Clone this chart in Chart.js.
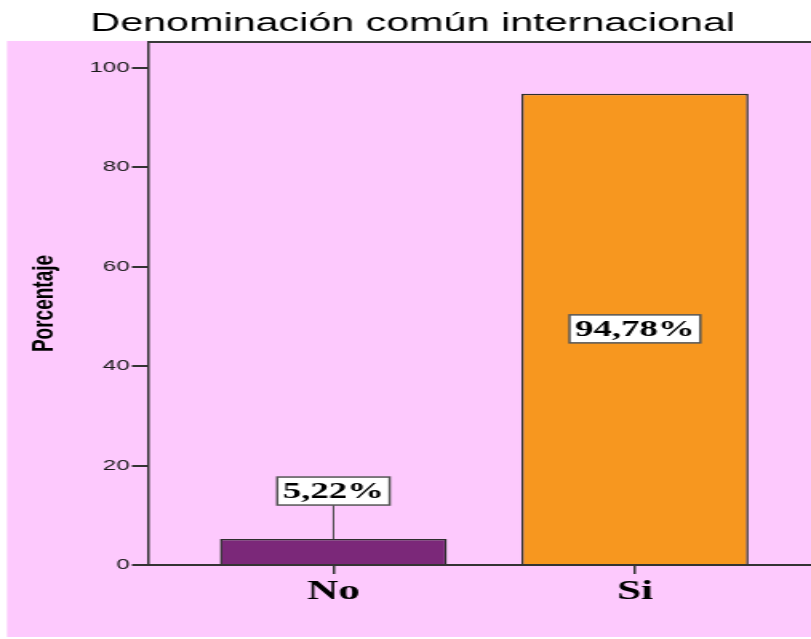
<!DOCTYPE html>
<html>
<head>
<meta charset="utf-8">
<title>Denominación común internacional</title>
<script src="https://cdn.jsdelivr.net/npm/chart.js@4"></script>
<style>
  body { margin: 0; background: #fff; }
  canvas { display: block; }
</style>
</head>
<body>
<!-- the reference is stretched sideways, so the canvas is drawn narrow and scaled up -->
<canvas id="chart" width="507" height="639" style="width:811px;height:639px"></canvas>
<script>
const categories = ['No', 'Si'];
const percentages = [5.22, 94.78];
const barColors = ['#7b2879', '#f7971f'];
const yTicks = [0, 20, 40, 60, 80, 100];

const chartTitle = 'Denominación común internacional';
const yTitle = 'Porcentaje';

// pink panel behind the plot and the top frame line
const panelPlugin = {
    id: 'panel',
    beforeDraw(chart) {
        const ctx = chart.ctx;
        ctx.save();
        ctx.fillStyle = '#ffffff';
        ctx.fillRect(0, 0, chart.width, chart.height);
        ctx.fillStyle = '#fdc9fd';
        ctx.fillRect(4.4, chart.chartArea.top - 1, chart.width, chart.height - chart.chartArea.top - 1);
        ctx.restore();
    },
    afterDraw(chart) {
        const { ctx, chartArea } = chart;
        ctx.save();
        ctx.strokeStyle = '#3a3a3a';
        ctx.lineWidth = 2;
        ctx.beginPath();
        ctx.moveTo(chartArea.left, chartArea.top);
        ctx.lineTo(chartArea.right, chartArea.top);
        ctx.stroke();
        ctx.restore();
    }
};

// boxed percentage labels
const labelPlugin = {
    id: 'boxLabels',
    afterDatasetsDraw(chart) {
        const ctx = chart.ctx;
        const meta = chart.getDatasetMeta(0);
        ctx.save();
        ctx.font = 'bold 23px "Liberation Serif", "Times New Roman", serif';
        ctx.textAlign = 'center';
        ctx.textBaseline = 'middle';
        meta.data.forEach((bar, i) => {
            const text = percentages[i].toFixed(2).replace('.', ',') + '%';
            const w = ctx.measureText(text).width + 7;
            const h = 28;
            let cy;
            if (bar.base - bar.y > 60) {
                cy = (bar.y + bar.base) / 2;
            } else {
                cy = bar.y - 48;
                ctx.strokeStyle = '#444';
                ctx.lineWidth = 1;
                ctx.beginPath();
                ctx.moveTo(bar.x, cy + h / 2);
                ctx.lineTo(bar.x, bar.y);
                ctx.stroke();
            }
            ctx.fillStyle = '#ffffff';
            ctx.fillRect(bar.x - w / 2, cy - h / 2, w, h);
            ctx.strokeStyle = '#555';
            ctx.lineWidth = 1.5;
            ctx.strokeRect(bar.x - w / 2, cy - h / 2, w, h);
            ctx.fillStyle = '#000';
            ctx.fillText(text, bar.x, cy + 1);
        });
        ctx.restore();
    }
};

new Chart(document.getElementById('chart'), {
    type: 'bar',
    data: {
        datasets: [{
            data: percentages.map((v, i) => ({ x: i + 1, y: v })),
            backgroundColor: barColors,
            borderColor: '#2e2e2e',
            borderWidth: 1.5,
            categoryPercentage: 1,
            barPercentage: 0.753
        }]
    },
    options: {
        responsive: false,
        animation: false,
        devicePixelRatio: 1,
        layout: { padding: { left: 9, right: 0, top: 0, bottom: 0 } },
        plugins: {
            legend: { display: false },
            tooltip: { enabled: false },
            title: {
                display: true,
                text: chartTitle,
                color: '#000',
                font: { family: '"Liberation Sans", Arial, sans-serif', size: 25.8, weight: 'normal', lineHeight: 1.2 },
                padding: { top: 8, bottom: 3 }
            }
        },
        scales: {
            x: {
                type: 'linear',
                offset: false,
                min: 0.385,
                max: 2.584,
                grid: { offset: false, drawOnChartArea: false, drawTicks: true, tickLength: 9, color: '#333', lineWidth: 1.5 },
                border: { display: true, color: '#333', width: 2 },
                ticks: {
                    stepSize: 1,
                    includeBounds: false,
                    padding: 2,
                    color: '#000',
                    font: { family: '"Liberation Serif", "Times New Roman", serif', size: 27, weight: 'bold' },
                    callback: (v) => categories[v - 1] || ''
                },
                afterFit(scale) { scale.height = 74; }
            },
            y: {
                min: 0,
                max: 105.2,
                grid: { drawOnChartArea: false, drawTicks: true, tickLength: 10, color: '#333', lineWidth: 2 },
                border: { display: true, color: '#333', width: 1.5 },
                ticks: {
                    stepSize: 20,
                    includeBounds: false,
                    padding: 1.5,
                    color: '#1a1a1a',
                    font: { family: '"Liberation Sans", Arial, sans-serif', size: 15 },
                    callback: (v) => yTicks.includes(v) ? v : ''
                },
                title: {
                    display: true,
                    text: yTitle,
                    color: '#000',
                    font: { family: '"Liberation Sans", Arial, sans-serif', size: 19, weight: 'bold', lineHeight: 1.2 },
                    padding: { top: 7.6, bottom: 0 }
                },
                afterFit(scale) { scale.width = 83.5; }
            }
        }
    },
    plugins: [panelPlugin, labelPlugin]
});
</script>
</body>
</html>
